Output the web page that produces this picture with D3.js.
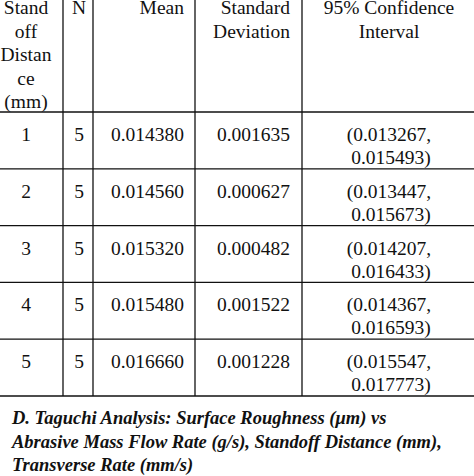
<!DOCTYPE html>
<html><head><meta charset="utf-8">
<script src="https://cdn.jsdelivr.net/npm/d3@7"></script>
<style>body{margin:0;background:#fff}</style></head>
<body><svg id="c" width="474" height="476"></svg>
<script>
const headers = [["Stand","off","Distan","ce","(mm)"],["N"],["Mean"],["Standard","Deviation"],["95% Confidence","Interval"]];
const distances = ["1","2","3","4","5"];
const nValues = ["5","5","5","5","5"];
const means = ["0.014380","0.014560","0.015320","0.015480","0.016660"];
const stdDevs = ["0.001635","0.000627","0.000482","0.001522","0.001228"];
const ciLow = ["0.013267","0.013447","0.014207","0.014367","0.015547"];
const ciHigh = ["0.015493","0.015673","0.016433","0.016593","0.017773"];
const caption = ["D. Taguchi Analysis: Surface Roughness (μm) vs","Abrasive Mass Flow Rate (g/s), Standoff Distance (mm),","Transverse Rate (mm/s)"];

const svg = d3.select("#c");
const font = "Liberation Serif, Tinos, DejaVu Serif, serif";
const colLines = [63, 93, 195, 302];
const rowY = d3.scaleLinear().domain([0,5]).range([112, 396]);
const g = svg.append("g").attr("stroke","#111").attr("stroke-width",1.3);
colLines.forEach(x => g.append("line").attr("x1",x).attr("x2",x).attr("y1",0).attr("y2",rowY(5)));
d3.range(6).forEach(i => g.append("line").attr("x1",0).attr("x2",474).attr("y1",rowY(i)).attr("y2",rowY(i)));

const colX = [{x:26,a:"middle"},{x:79,a:"middle"},{x:184,a:"end"},{x:290,a:"end"},{x:389,a:"middle"}];
const T = svg.append("g").attr("style","font-family:"+font).attr("font-size",19.5).attr("fill","#111");
headers.forEach((h,ci) => h.forEach((t,li) => T.append("text").attr("x",colX[ci].x).attr("y",14+li*23.5).attr("text-anchor",colX[ci].a).text(t)));
distances.forEach((d,i) => {
  const y = rowY(i)+29;
  const vals = [d, nValues[i], means[i], stdDevs[i]];
  vals.forEach((v,ci) => T.append("text").attr("x",colX[ci].x).attr("y",y).attr("text-anchor",colX[ci].a).text(v));
  T.append("text").attr("x",389).attr("y",y).attr("text-anchor","middle").text("("+ciLow[i]+",");
  T.append("text").attr("x",391).attr("y",y+23).attr("text-anchor","middle").text(ciHigh[i]+")");
});
caption.forEach((t,i) => svg.append("text").attr("x",12).attr("y",424+i*23.5).attr("style","font-family:"+font)
  .attr("font-size",18.5).attr("font-weight","bold").attr("font-style","italic").attr("fill","#111").text(t));
</script></body></html>
